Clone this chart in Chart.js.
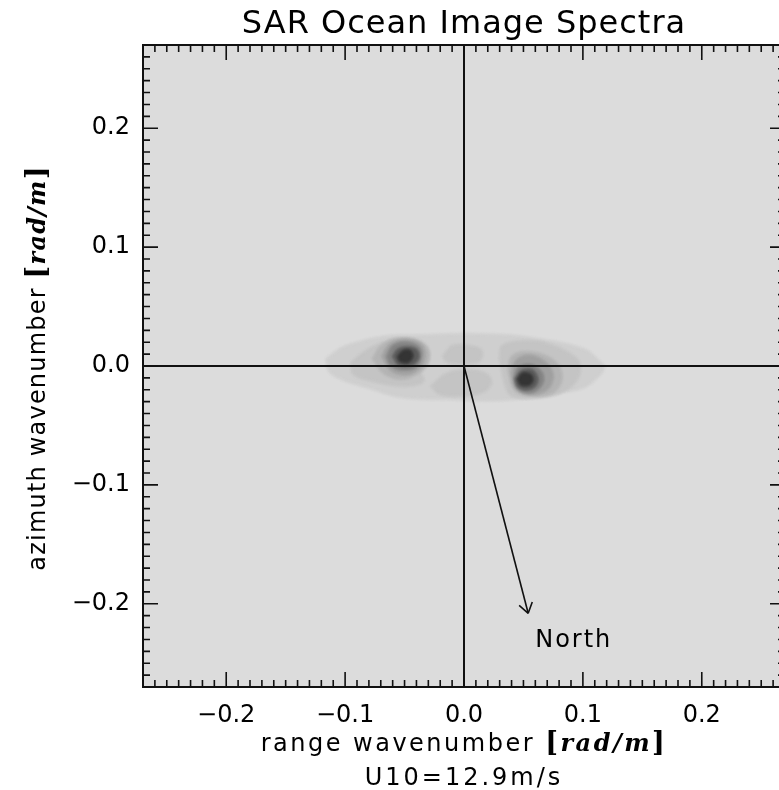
<!DOCTYPE html>
<html>
<head>
<meta charset="utf-8">
<script src="https://cdn.jsdelivr.net/npm/chart.js@4.4.0/dist/chart.umd.min.js"></script>
<style>
  html, body { margin: 0; padding: 0; background: #fff; overflow: hidden; }
  canvas { display: block; }
</style>
</head>
<body>
<canvas id="spectra" width="800" height="790"></canvas>
<script>
// wavenumber axes, rad/m
const axisMin = -0.27;
const axisMax = 0.27;
const tickValues = [-0.2, -0.1, 0.0, 0.1, 0.2];

// grey shades of the filled contour levels, lightest first
const levelColors = ['#cfcfcf', '#c4c4c4', '#b4b4b4', '#a0a0a0', '#838383', '#5a5a5a', '#343434'];

// contour outlines [kx, ky]
const outerBand = [[-0.116,0.006],[-0.104,0.015],[-0.090,0.020],[-0.073,0.024],[-0.056,0.026],[-0.037,0.026],
  [-0.012,0.027],[0.013,0.027],[0.039,0.026],[0.062,0.023],[0.085,0.019],[0.104,0.013],[0.112,0.006],
  [0.118,-0.001],[0.112,-0.010],[0.099,-0.019],[0.076,-0.023],[0.054,-0.027],[0.030,-0.029],[0.005,-0.029],
  [-0.014,-0.028],[-0.031,-0.028],[-0.048,-0.027],[-0.064,-0.024],[-0.079,-0.019],[-0.093,-0.015],
  [-0.106,-0.010],[-0.114,-0.004]];
const leftHalo = [[-0.095,0.003],[-0.081,0.014],[-0.064,0.021],[-0.043,0.023],[-0.031,0.017],[-0.033,0.008],
  [-0.037,-0.003],[-0.034,-0.013],[-0.051,-0.017],[-0.076,-0.013],[-0.093,-0.007]];
const centreTop = [[-0.018,0.008],[-0.010,0.017],[0.005,0.017],[0.015,0.013],[0.013,0.004],[0.001,0.002],[-0.014,0.003]];
const centreBottom = [[-0.028,-0.017],[-0.016,-0.007],[0.001,-0.003],[0.018,-0.006],[0.023,-0.013],[0.018,-0.021],
  [0.001,-0.025],[-0.020,-0.024]];
const rightHalo = [[0.030,0.006],[0.032,0.017],[0.049,0.021],[0.070,0.019],[0.095,0.006],[0.097,-0.008],
  [0.085,-0.021],[0.062,-0.027],[0.040,-0.025],[0.034,-0.014]];

const leftL3 = [[-0.077,0.006],[-0.070,0.017],[-0.058,0.023],[-0.041,0.022],[-0.030,0.014],[-0.030,0.003],
  [-0.038,-0.006],[-0.053,-0.011],[-0.068,-0.006]];
const leftL4 = [[-0.069,0.008],[-0.063,0.018],[-0.051,0.022],[-0.037,0.019],[-0.033,0.011],[-0.036,0.000],
  [-0.047,-0.007],[-0.061,-0.004]];
const leftL5 = [[-0.065,0.008],[-0.060,0.017],[-0.049,0.020],[-0.038,0.016],[-0.036,0.008],[-0.041,-0.001],
  [-0.053,-0.003],[-0.062,0.001]];
const leftL6 = [[-0.060,0.008],[-0.056,0.014],[-0.048,0.016],[-0.040,0.014],[-0.038,0.007],[-0.044,0.001],[-0.055,0.001]];
const leftPeak = [[-0.056,0.008],[-0.051,0.013],[-0.045,0.013],[-0.043,0.008],[-0.047,0.003],[-0.054,0.004]];

const rightL3 = [[0.037,-0.004],[0.040,0.008],[0.051,0.012],[0.068,0.009],[0.080,0.000],[0.082,-0.013],
  [0.074,-0.023],[0.057,-0.025],[0.043,-0.021]];
const rightL4 = [[0.040,-0.006],[0.044,0.005],[0.055,0.009],[0.069,0.003],[0.075,-0.008],[0.070,-0.020],
  [0.055,-0.024],[0.043,-0.018]];
const rightL5 = [[0.042,-0.010],[0.046,-0.001],[0.057,0.001],[0.066,-0.006],[0.066,-0.015],[0.058,-0.022],[0.046,-0.020]];
const rightL6 = [[0.043,-0.011],[0.048,-0.004],[0.057,-0.003],[0.062,-0.010],[0.060,-0.017],[0.052,-0.020],[0.045,-0.017]];
const rightPeak = [[0.045,-0.011],[0.049,-0.006],[0.056,-0.007],[0.058,-0.012],[0.055,-0.016],[0.048,-0.016]];

// north direction arrow, from origin
const arrowX = [0.0, 0.054];
const arrowY = [0.0, -0.208];

const contours = [
  [0, outerBand], [1, leftHalo], [1, centreTop], [1, centreBottom], [1, rightHalo],
  [2, leftL3], [3, leftL4], [4, leftL5], [5, leftL6], [6, leftPeak],
  [2, rightL3], [3, rightL4], [4, rightL5], [5, rightL6], [6, rightPeak]
];

const FONT = 'DejaVu Sans';
const SERIF = 'DejaVu Serif';

const contourSets = contours.map(([level, pts]) => ({
  data: pts.concat([pts[0]]).map(([x, y]) => ({ x, y })),
  showLine: true,
  fill: 'shape',
  tension: 0.35,
  backgroundColor: levelColors[level],
  borderColor: levelColors[level],
  borderWidth: 1,
  pointRadius: 0,
  order: 20 - level
}));

const arrowSet = {
  data: arrowX.map((x, i) => ({ x, y: arrowY[i] })),
  showLine: true,
  fill: false,
  borderColor: '#111',
  borderWidth: 1.6,
  pointRadius: 0,
  order: 0
};

// draw a line of text made of several font runs, centred on cx
function drawRich(ctx, parts, cx, y, spacing) {
  ctx.letterSpacing = spacing + 'px';
  let total = 0;
  parts.forEach(p => { ctx.font = p.font; p.w = ctx.measureText(p.text).width; total += p.w; });
  let x = cx - total / 2;
  ctx.textAlign = 'left';
  ctx.textBaseline = 'alphabetic';
  parts.forEach(p => { ctx.font = p.font; ctx.fillText(p.text, x, y); x += p.w; });
  ctx.letterSpacing = '0px';
}

const unitParts = () => [
  { text: '[', font: 'bold 27px ' + SERIF },
  { text: 'rad/m', font: 'bold italic 24px ' + SERIF },
  { text: ']', font: 'bold 27px ' + SERIF }
];

const framePlugin = {
  id: 'frame',
  beforeDraw(chart) {
    const { ctx, chartArea: a } = chart;
    ctx.save();
    ctx.fillStyle = '#dcdcdc';
    ctx.fillRect(a.left, a.top, a.right - a.left, a.bottom - a.top);
    ctx.restore();
  },
  // soften the contour fills a little; the arrow is drawn sharp
  beforeDatasetsDraw(chart) {
    chart.ctx.filter = 'blur(1px)';
  },
  beforeDatasetDraw(chart, args) {
    if (args.meta.index === chart.data.datasets.length - 1) chart.ctx.filter = 'none';
  },
  afterDatasetsDraw(chart) {
    const { ctx, chartArea: a, scales: { x, y } } = chart;
    ctx.filter = 'none';
    ctx.save();
    ctx.strokeStyle = '#111';
    ctx.lineWidth = 2;
    ctx.beginPath();
    ctx.moveTo(a.left, y.getPixelForValue(0));
    ctx.lineTo(a.right, y.getPixelForValue(0));
    ctx.moveTo(x.getPixelForValue(0), a.top);
    ctx.lineTo(x.getPixelForValue(0), a.bottom);
    ctx.stroke();

    // arrow head and label at the tip
    const meta = chart.getDatasetMeta(chart.data.datasets.length - 1);
    const p0 = meta.data[0], p1 = meta.data[1];
    const ang = Math.atan2(p0.y - p1.y, p0.x - p1.x);
    ctx.lineWidth = 1.6;
    ctx.beginPath();
    [0.6, -0.6].forEach(d => {
      ctx.moveTo(p1.x, p1.y);
      ctx.lineTo(p1.x + 12 * Math.cos(ang + d), p1.y + 12 * Math.sin(ang + d));
    });
    ctx.stroke();
    ctx.fillStyle = '#000';
    ctx.font = '24px ' + FONT;
    ctx.letterSpacing = '2px';
    ctx.textAlign = 'left';
    ctx.textBaseline = 'alphabetic';
    ctx.fillText('North', p1.x + 7, p1.y + 34);
    ctx.restore();
  },
  afterDraw(chart) {
    const { ctx, chartArea: a, scales: { x, y } } = chart;
    ctx.save();
    ctx.strokeStyle = '#111';
    ctx.lineWidth = 2;
    ctx.strokeRect(a.left, a.top, a.right - a.left, a.bottom - a.top);

    // inward ticks on all four sides
    ctx.lineWidth = 1.6;
    ctx.beginPath();
    for (let i = -27; i <= 27; i++) {
      const v = i / 100;
      const len = i % 10 === 0 ? 15 : 7;
      const px = x.getPixelForValue(v);
      const py = y.getPixelForValue(v);
      ctx.moveTo(px, a.bottom); ctx.lineTo(px, a.bottom - len);
      ctx.moveTo(px, a.top); ctx.lineTo(px, a.top + len);
      ctx.moveTo(a.left, py); ctx.lineTo(a.left + len, py);
      ctx.moveTo(a.right, py); ctx.lineTo(a.right - len, py);
    }
    ctx.stroke();

    // titles
    const cx = (a.left + a.right) / 2;
    const cy = (a.top + a.bottom) / 2;
    ctx.fillStyle = '#000';
    drawRich(ctx, [{ text: 'SAR Ocean Image Spectra', font: '32px ' + FONT }], cx, 33, 1);
    drawRich(ctx, [{ text: 'range wavenumber ', font: '24px ' + FONT }].concat(unitParts()), cx, 751, 2.5);
    drawRich(ctx, [{ text: 'U10=12.9m/s', font: '24px ' + FONT }], cx, 785, 3);
    ctx.translate(45, cy + 2);
    ctx.rotate(-Math.PI / 2);
    drawRich(ctx, [{ text: 'azimuth wavenumber ', font: '24px ' + FONT }].concat(unitParts()), 0, 0, 1.2);
    ctx.restore();
  }
};

const tickLabel = v => (v < 0 ? '\u2212' : '') + Math.abs(v).toFixed(1);

const axisOptions = (pos, size) => ({
  type: 'linear',
  position: pos,
  min: axisMin,
  max: axisMax,
  grid: { display: false, drawTicks: false },
  border: { display: false },
  afterBuildTicks: scale => { scale.ticks = tickValues.map(v => ({ value: v })); },
  afterFit: scale => { if (pos === 'left') scale.width = size; else scale.height = size; },
  ticks: {
    color: '#000',
    font: { family: FONT, size: 24 },
    padding: pos === 'left' ? 13 : 14,
    maxRotation: 0,
    autoSkip: false,
    callback: v => tickLabel(v)
  }
});

new Chart(document.getElementById('spectra'), {
  type: 'scatter',
  data: { datasets: contourSets.concat([arrowSet]) },
  options: {
    responsive: false,
    animation: false,
    devicePixelRatio: 1,
    layout: { padding: { left: 0, top: 45, right: 15, bottom: 0 } },
    plugins: { legend: { display: false }, tooltip: { enabled: false } },
    scales: {
      x: axisOptions('bottom', 103),
      y: axisOptions('left', 143)
    }
  },
  plugins: [framePlugin]
});
</script>
</body>
</html>
